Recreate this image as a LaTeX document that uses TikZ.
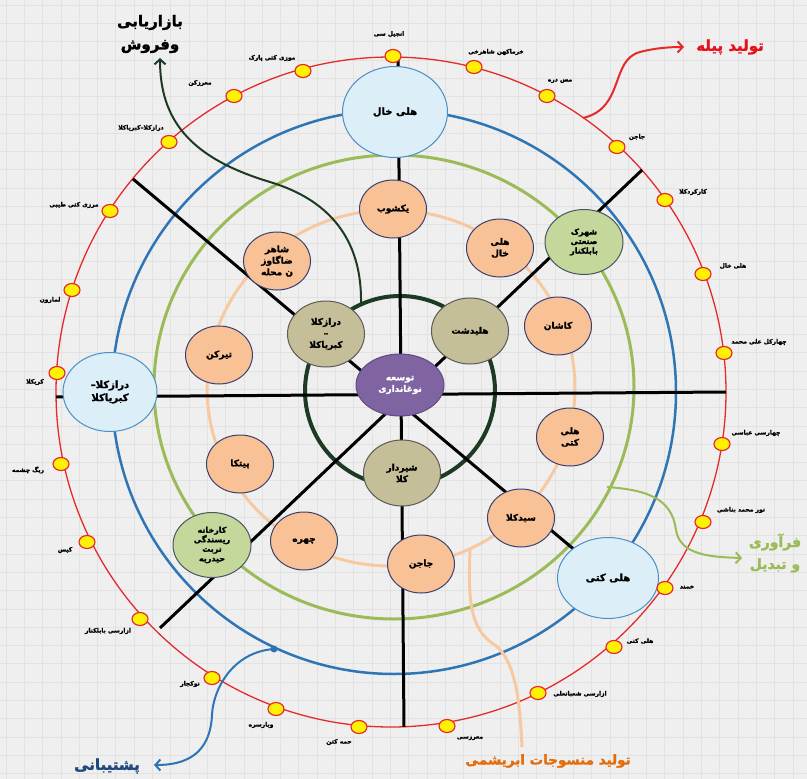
\documentclass[tikz,border=0pt]{standalone}
\usepackage{fontspec}
\newfontfamily\arfont[Script=Arabic, BoldFeatures={FakeBold=1.6}]{DejaVu Sans}
\TeXXeTstate=1
\usetikzlibrary{shapes.geometric,arrows.meta}
\newcommand{\artx}[1]{\beginR #1\endR}
\definecolor{bgc}{HTML}{EFEFEF}
\definecolor{gridc}{HTML}{E2E2E2}
\definecolor{ringred}{HTML}{E52A2A}
\definecolor{ringblue}{HTML}{2E75B6}
\definecolor{ringgreen}{HTML}{9BBB59}
\definecolor{ringpeach}{HTML}{F7C9A2}
\definecolor{ringdark}{HTML}{1D3B22}
\definecolor{peachfill}{HTML}{F9C196}
\definecolor{nodeedge}{HTML}{3B3F6E}
\definecolor{khakifill}{HTML}{C5BF99}
\definecolor{khakiedge}{HTML}{5A5A58}
\definecolor{greenfill}{HTML}{C4D89C}
\definecolor{greenedge}{HTML}{4A5560}
\definecolor{bluefill}{HTML}{DCEEF8}
\definecolor{blueedge}{HTML}{4A8FC4}
\definecolor{purplefill}{HTML}{8064A2}
\definecolor{purpleedge}{HTML}{5E4B86}
\definecolor{dotfill}{HTML}{FFF200}
\definecolor{redtxt}{HTML}{E8101A}
\definecolor{orangetxt}{HTML}{E46C0A}
\definecolor{navytxt}{HTML}{1F497D}
\definecolor{greentxt}{HTML}{9BBB59}
\tikzset{
 spoke/.style={black, line width=3pt},
 ovalbase/.style={ellipse, inner sep=0pt, align=center, font=\arfont\bfseries\fontsize{9}{11.5}\selectfont},
 peachnode/.style={ovalbase, draw=nodeedge, line width=1pt, fill=peachfill, minimum width=67pt, minimum height=58pt},
 khakinode/.style={ovalbase, draw=khakiedge, line width=1pt, fill=khakifill, minimum width=77pt, minimum height=66pt},
 greennode/.style={ovalbase, draw=greenedge, line width=1pt, fill=greenfill, minimum width=78pt, minimum height=65pt, font=\arfont\bfseries\fontsize{8}{9.5}\selectfont},
 bluenode/.style={ovalbase, draw=blueedge, line width=1pt, fill=bluefill, font=\arfont\bfseries\fontsize{10}{13}\selectfont},
 centernode/.style={ovalbase, draw=purpleedge, line width=1pt, fill=purplefill, text=white, minimum width=88pt, minimum height=62pt},
 stopdot/.style={ellipse, draw=ringred, line width=1.2pt, fill=dotfill, minimum width=16pt, minimum height=13pt, inner sep=0pt},
 stoplabel/.style={inner sep=0pt, font=\arfont\bfseries\fontsize{6}{7}\selectfont},
 bigtext/.style={inner sep=0pt, align=center, font=\arfont\bfseries\fontsize{15}{23}\selectfont},
}
\begin{document}
\begin{tikzpicture}[x=1pt,y=-1pt]
\path[use as bounding box, fill=bgc] (0,0) rectangle (807,779);
\foreach \i in {0,...,44} { \draw[gridc, line width=0.8pt] ({6+18.3*\i},0) -- ({6+18.3*\i},779); }
\foreach \j in {0,...,43} { \draw[gridc, line width=0.8pt] (0,{5+18.3*\j}) -- (807,{5+18.3*\j}); }

% rings
\draw[ringred, line width=1.3pt] (391,392) circle[radius=335pt];
\draw[ringblue, line width=2.5pt] (394,392) circle[radius=282pt];
\draw[ringgreen, line width=3pt] (394,387) ellipse[x radius=240pt, y radius=232pt];
\draw[ringpeach, line width=3pt] (391,388) ellipse[x radius=184pt, y radius=178pt];
\draw[ringdark, line width=4pt] (400,391) circle[radius=95pt];

% spoke ends
\coordinate (sN) at (398,57);
\coordinate (sS) at (404,727);
\coordinate (sW) at (56,397);
\coordinate (sE) at (726,392);
\coordinate (sNE) at (642,170);
\coordinate (sSW) at (160,628);
\coordinate (sNW) at (133,179);
\coordinate (cSE) at (608,578);
\draw[spoke] (sN) -- (sS);
\draw[spoke] (sW) -- (sE);
\draw[spoke] (sNE) -- (sSW);
\draw[spoke] (sNW) -- (cSE);

% peach side branch
\coordinate (mA) at (470,550);
\coordinate (mB) at (522,747);
\draw[ringpeach, line width=3pt] (mA) .. controls (468,600) and (470,630) .. (495,645) .. controls (515,660) and (520,700) .. (mB);

% blue ring nodes
\node[bluenode, minimum width=105pt, minimum height=91pt] (bN) at (395,112) {\artx{هلی خال}};
\node[bluenode, minimum width=94pt, minimum height=79pt] (bW) at (110,392) {\artx{درازکلا–}\\\artx{کبریاکلا}};
\node[bluenode, minimum width=101pt, minimum height=81pt] (bSE) at (cSE) {\artx{هلی کتی}};

% green ring nodes
\node[greennode] (gNE) at (584,242) {\artx{شهرک}\\\artx{صنعتی}\\\artx{بابلکنار}};
\node[greennode] (gSW) at (212,545) {\artx{کارخانه}\\\artx{ریسندگی}\\\artx{تربت}\\\artx{حیدریه}};

% peach ring nodes
\node[peachnode] (p1) at (393,209) {\artx{یکشوب}};
\node[peachnode] (p2) at (500,248) {\artx{هلی}\\\artx{خال}};
\node[peachnode] (p3) at (558,326) {\artx{کاشان}};
\node[peachnode] (p4) at (570,437) {\artx{هلی}\\\artx{کتی}};
\node[peachnode] (p5) at (521,518) {\artx{سیدکلا}};
\node[peachnode] (p6) at (421,564) {\artx{جاجن}};
\node[peachnode] (p7) at (304,541) {\artx{چهره}};
\node[peachnode] (p8) at (240,464) {\artx{پیتکا}};
\node[peachnode] (p9) at (219,355) {\artx{تیرکن}};
\node[peachnode] (p10) at (277,261) {\artx{شاهر}\\\artx{ضاگاوز}\\\artx{ن محله}};

% inner nodes
\node[khakinode] (k1) at (326,334) {\artx{درازکلا}\\\artx{–}\\\artx{کبریاکلا}};
\node[khakinode] (k2) at (470,331) {\artx{هلیدشت}};
\node[khakinode] (k3) at (402,473) {\artx{شیردار}\\\artx{کلا}};
\node[centernode] (c) at (400,385) {\artx{توسعه}\\\artx{نوغانداری}};

% stops on the red ring
\foreach \n/\px/\py/\lx/\ly/\t in {
 1/393/56/389/34/انجیل سی,
 2/303/71/272/58/موزی کتی پارک,
 3/234/96/200/83/معرزکن,
 4/169/142/141/128/درازکلا–کبریاکلا,
 5/110/211/74/205/مرزی کتی طیبی,
 6/72/290/50/300/لمارون,
 7/57/373/35/382/کربکلا,
 8/61/464/28/470/ریگ چشمه,
 9/87/542/65/550/کیس,
 10/140/619/108/631/ازارسی بابلکنار,
 11/212/678/190/684/نوکجار,
 12/276/709/261/725/وبارسره,
 13/359/727/339/742/حمه کتن,
 14/447/726/470/738/معرزسی,
 15/538/693/580/694/ازارسی شعبانعلی,
 16/614/647/640/641/هلی کتی,
 17/665/588/687/587/خمند,
 18/703/522/741/510/نور محمد بناشی,
 19/722/444/756/433/چهارسی عباسی,
 20/724/353/759/342/چهارکل علی محمد,
 21/703/274/733/266/هلی خال,
 22/665/200/693/192/کارکردکلا,
 23/617/147/637/137/جاجن,
 24/547/96/560/81/مس دره,
 25/474/67/496/52/خرماکهن شاهرخی}{
  \node[stopdot] (d\n) at (\px,\py) {};
  \node[stoplabel] (l\n) at (\lx,\ly) {\artx{\t}};
}

% annotations
\node[bigtext] (mkt) at (150,34) {\artx{بازاریابی}\\\artx{وفروش}};
\node[bigtext, text=redtxt] (pile) at (730,47) {\artx{تولید پیله}};
\node[bigtext, text=greentxt, font=\arfont\bfseries\fontsize{14}{22}\selectfont] (frv) at (775,553) {\artx{فرآوری}\\\artx{و تبدیل}};
\node[bigtext, text=orangetxt, font=\arfont\bfseries\fontsize{13.5}{20}\selectfont] (mns) at (548,761) {\artx{تولید منسوجات ابریشمی}};
\node[bigtext, text=navytxt] (pst) at (107,766) {\artx{پشتیبانی}};

\coordinate (aMs) at (361,303);
\coordinate (aMt) at (160,58);
\draw[ringdark, line width=2pt, -{Straight Barb[length=5pt,width=11pt]}] (aMs) .. controls (362,240) and (330,200) .. (270,182) .. controls (190,158) and (160,120) .. (aMt);

\coordinate (aRs) at (583,118);
\coordinate (aRt) at (684,47);
\draw[ringred, line width=2pt, -{Straight Barb[length=5pt,width=11pt]}] (aRs) .. controls (625,108) and (610,60) .. (640,52) .. controls (655,48) and (670,47) .. (aRt);

\coordinate (aGs) at (607,487);
\coordinate (aGt) at (742,558);
\draw[ringgreen, line width=2pt, -{Straight Barb[length=5pt,width=11pt]}] (aGs) .. controls (650,490) and (672,500) .. (676,530) .. controls (680,555) and (710,557) .. (aGt);

\coordinate (aBs) at (274,649);
\coordinate (aBt) at (154,765);
\fill[ringblue] (aBs) circle[radius=3.5pt];
\draw[ringblue, line width=2pt, -{Straight Barb[length=5pt,width=11pt]}] (aBs) .. controls (232,652) and (213,690) .. (212,715) .. controls (210,755) and (185,765) .. (aBt);
\end{tikzpicture}
\end{document}
